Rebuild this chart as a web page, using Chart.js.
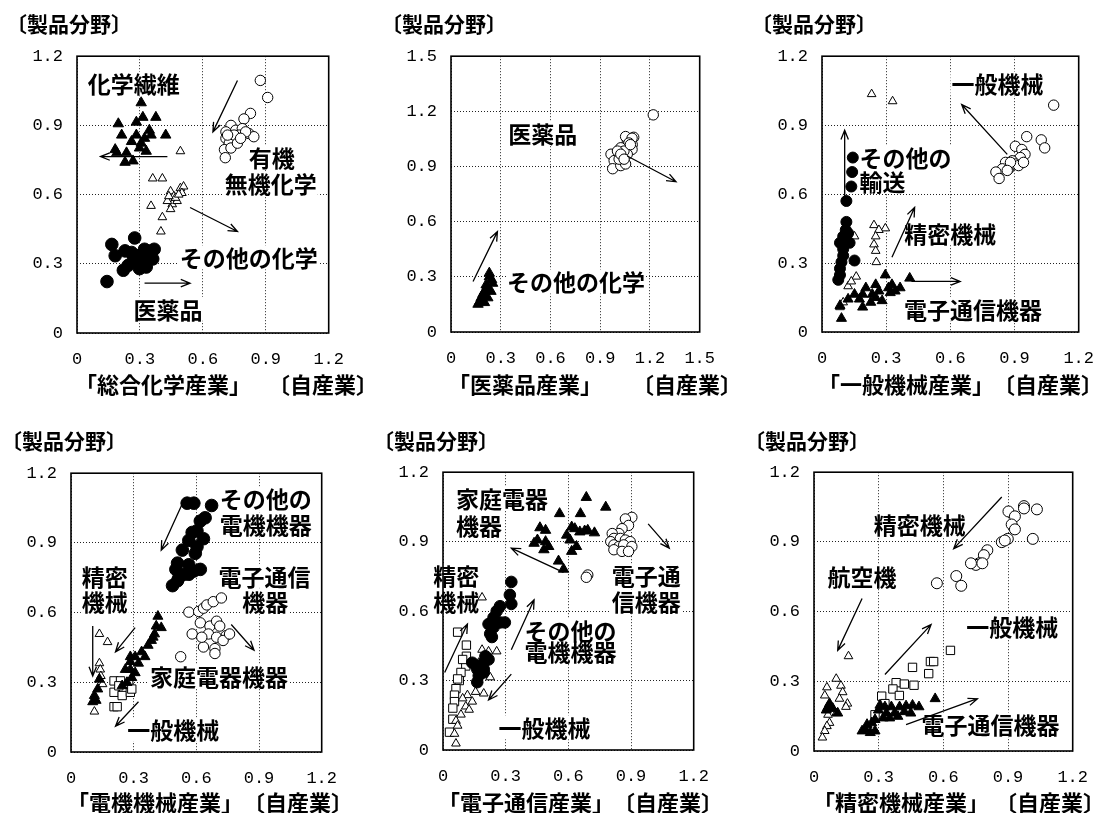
<!DOCTYPE html>
<html><head><meta charset="utf-8">
<script src="https://cdn.jsdelivr.net/npm/chart.js@4.4.0/dist/chart.umd.min.js"></script>
<style>
html,body{margin:0;padding:0;background:#fff;}
body{width:1109px;height:813px;position:relative;overflow:hidden;font-family:"Noto Sans CJK JP",sans-serif;}
.t{position:absolute;font-weight:700;white-space:nowrap;color:#000;}
.ttl{font-size:21px;line-height:21px;}
.xt{font-size:22px;line-height:22px;}
</style></head><body>
<script>
// ---------------- data (x = 自産業, y = 製品分野) ----------------
// Panel 1 「総合化学産業」
const p1_fiber   = [[0.306,0.998],[0.197,0.907],[0.283,0.914],[0.314,0.935],[0.376,0.935],[0.213,0.858],[0.182,0.795],[0.236,0.781],[0.283,0.858],[0.345,0.879],[0.353,0.858],[0.423,0.858],[0.306,0.823],[0.330,0.788],[0.229,0.740],[0.267,0.746],[0.298,0.802],[0.260,0.830],[0.322,0.844],[0.190,0.781]];
const p1_other   = [[0.493,0.788],[0.361,0.670],[0.407,0.670],[0.353,0.551],[0.407,0.502],[0.400,0.440],[0.446,0.614],[0.462,0.593],[0.454,0.558],[0.493,0.628],[0.508,0.635],[0.477,0.572],[0.431,0.572],[0.446,0.537],[0.469,0.586],[0.500,0.607],[0.438,0.593],[0.485,0.600]];
const p1_organic = [[0.874,1.095],[0.909,1.021],[0.827,0.952],[0.796,0.928],[0.734,0.900],[0.710,0.872],[0.757,0.879],[0.788,0.886],[0.819,0.865],[0.843,0.851],[0.710,0.844],[0.741,0.837],[0.773,0.858],[0.726,0.823],[0.703,0.795],[0.734,0.802],[0.707,0.760],[0.749,0.858],[0.804,0.872],[0.765,0.823],[0.718,0.858],[0.780,0.844]];
const p1_pharma  = [[0.166,0.384],[0.182,0.335],[0.275,0.412],[0.143,0.223],[0.221,0.272],[0.229,0.356],[0.260,0.349],[0.291,0.335],[0.322,0.363],[0.353,0.356],[0.306,0.300],[0.275,0.314],[0.244,0.293],[0.330,0.286],[0.361,0.321],[0.298,0.279],[0.267,0.335],[0.368,0.363],[0.337,0.335],[0.314,0.328]];
// Panel 2 「医薬品産業」
const p2_pharma  = [[1.220,1.181],[1.102,1.059],[1.063,1.045],[1.093,1.019],[1.053,1.063],[1.092,1.054],[1.073,1.028],[1.092,0.993],[1.024,1.002],[0.994,0.967],[0.965,0.967],[0.984,0.932],[0.975,0.888],[1.024,0.905],[1.053,0.914],[1.033,0.949],[1.063,0.967],[1.014,0.940],[1.043,0.984],[1.082,1.019],[1.004,0.984],[1.024,0.967],[1.044,0.940]];
const p2_other   = [[0.231,0.300],[0.212,0.256],[0.251,0.265],[0.202,0.221],[0.241,0.221],[0.182,0.186],[0.222,0.186],[0.163,0.151],[0.202,0.160],[0.231,0.320],[0.221,0.240],[0.192,0.205],[0.172,0.165],[0.245,0.285]];
// Panel 3 「一般機械産業」
const p3_general   = [[1.083,0.987],[0.957,0.850],[1.025,0.836],[1.041,0.801],[0.904,0.808],[0.934,0.794],[0.949,0.773],[0.927,0.759],[0.889,0.745],[0.858,0.738],[0.843,0.710],[0.813,0.696],[0.828,0.668],[0.873,0.710],[0.904,0.731],[0.919,0.724],[0.881,0.738],[0.942,0.738],[0.866,0.703]];
const p3_transport = [[0.144,0.759],[0.141,0.696],[0.137,0.633],[0.114,0.570],[0.114,0.479],[0.111,0.444],[0.099,0.416],[0.084,0.388],[0.099,0.332],[0.084,0.276],[0.076,0.227],[0.091,0.304],[0.122,0.430],[0.099,0.360],[0.152,0.311],[0.084,0.248],[0.129,0.388]];
const p3_precision = [[0.232,1.035],[0.330,1.004],[0.243,0.465],[0.296,0.451],[0.266,0.444],[0.251,0.416],[0.243,0.381],[0.251,0.353],[0.254,0.304],[0.152,0.416],[0.160,0.241],[0.122,0.199],[0.137,0.220],[0.084,0.108],[0.099,0.129]];
const p3_electronics = [[0.410,0.234],[0.296,0.248],[0.251,0.206],[0.235,0.164],[0.190,0.164],[0.190,0.108],[0.091,0.059],[0.122,0.143],[0.205,0.192],[0.266,0.178],[0.311,0.192],[0.319,0.171],[0.327,0.206],[0.365,0.192],[0.281,0.136],[0.228,0.129],[0.251,0.150],[0.175,0.143],[0.342,0.178],[0.152,0.164],[0.084,0.115]];
// Panel 4 「電機機械産業」
const p4_otherElec = [[0.556,1.071],[0.588,1.071],[0.673,1.061],[0.642,1.008],[0.619,0.994],[0.603,0.952],[0.580,0.945],[0.634,0.918],[0.564,0.911],[0.603,0.883],[0.533,0.869],[0.595,0.855],[0.564,0.806],[0.510,0.813],[0.502,0.786],[0.619,0.786],[0.588,0.779],[0.541,0.765],[0.517,0.751],[0.564,0.765],[0.486,0.716],[0.510,0.737]];
const p4_electronics = [[0.564,0.602],[0.611,0.605],[0.634,0.619],[0.650,0.633],[0.681,0.647],[0.720,0.663],[0.619,0.556],[0.665,0.542],[0.697,0.563],[0.712,0.542],[0.658,0.508],[0.697,0.494],[0.743,0.501],[0.580,0.508],[0.634,0.452],[0.689,0.445],[0.689,0.424],[0.728,0.480],[0.525,0.410],[0.626,0.494],[0.759,0.508]];
const p4_household = [[0.416,0.584],[0.432,0.535],[0.400,0.508],[0.385,0.480],[0.369,0.459],[0.338,0.431],[0.307,0.410],[0.284,0.410],[0.284,0.389],[0.260,0.355],[0.284,0.355],[0.307,0.341],[0.291,0.320],[0.268,0.299],[0.245,0.285],[0.136,0.313],[0.128,0.271],[0.112,0.243],[0.104,0.216],[0.120,0.222],[0.323,0.382],[0.354,0.410],[0.393,0.494],[0.408,0.542]];
const p4_precision = [[0.136,0.508],[0.175,0.473],[0.136,0.382],[0.140,0.355],[0.143,0.327],[0.112,0.174],[0.151,0.292]];
const p4_general = [[0.206,0.306],[0.237,0.306],[0.206,0.257],[0.252,0.271],[0.245,0.243],[0.284,0.257],[0.206,0.195],[0.221,0.195],[0.229,0.285],[0.276,0.292],[0.291,0.271]];
// Panel 5 「電子通信産業」
const p5_household = [[0.686,1.091],[0.779,1.049],[0.558,1.021],[0.658,1.021],[0.464,0.960],[0.491,0.949],[0.616,0.963],[0.631,0.956],[0.655,0.942],[0.678,0.946],[0.693,0.949],[0.725,0.938],[0.452,0.907],[0.491,0.900],[0.506,0.879],[0.483,0.865],[0.553,0.816],[0.577,0.781],[0.616,0.858],[0.639,0.879],[0.608,0.907],[0.592,0.928],[0.436,0.893]];
const p5_electronics = [[0.904,1.005],[0.873,0.998],[0.888,0.970],[0.857,0.956],[0.842,0.935],[0.810,0.935],[0.818,0.914],[0.803,0.900],[0.849,0.914],[0.873,0.907],[0.896,0.900],[0.818,0.886],[0.842,0.879],[0.865,0.886],[0.904,0.879],[0.818,0.865],[0.857,0.858],[0.888,0.858],[0.693,0.756],[0.686,0.746]];
const p5_otherElec = [[0.327,0.726],[0.320,0.670],[0.327,0.631],[0.273,0.621],[0.257,0.600],[0.242,0.572],[0.218,0.544],[0.242,0.530],[0.226,0.502],[0.234,0.488],[0.273,0.551],[0.296,0.551],[0.203,0.405],[0.195,0.377],[0.171,0.363],[0.164,0.349],[0.195,0.349],[0.195,0.335],[0.164,0.293],[0.218,0.391],[0.171,0.321],[0.140,0.377]];
const p5_precision = [[0.070,0.509],[0.112,0.453],[0.112,0.405],[0.109,0.363],[0.086,0.335],[0.078,0.300],[0.062,0.265],[0.055,0.237],[0.055,0.209],[0.047,0.181],[0.047,0.133],[0.031,0.077],[0.070,0.307],[0.094,0.391]];
const p5_general = [[0.187,0.659],[0.187,0.433],[0.218,0.426],[0.257,0.426],[0.226,0.314],[0.156,0.251],[0.195,0.244],[0.117,0.237],[0.094,0.223],[0.140,0.209],[0.109,0.188],[0.125,0.174],[0.086,0.153],[0.062,0.126],[0.070,0.105],[0.055,0.070],[0.062,0.028],[0.171,0.377]];
// Panel 6 「精密機械産業」
const p6_precision = [[0.974,1.054],[1.034,1.040],[0.974,1.044],[0.902,1.031],[0.932,1.010],[0.917,0.975],[0.932,0.954],[1.015,0.913],[0.899,0.913],[0.871,0.899],[0.804,0.864],[0.788,0.843],[0.766,0.808],[0.751,0.801],[0.781,0.808],[0.728,0.808],[0.660,0.753],[0.683,0.711],[0.570,0.722],[0.885,0.906]];
const p6_general = [[0.633,0.433],[0.540,0.385],[0.555,0.385],[0.532,0.333],[0.457,0.360],[0.381,0.294],[0.419,0.288],[0.464,0.283],[0.366,0.267],[0.396,0.239],[0.314,0.236],[0.283,0.156],[0.329,0.204]];
const p6_aircraft = [[0.160,0.408],[0.103,0.311],[0.060,0.274],[0.125,0.281],[0.133,0.253],[0.050,0.239],[0.118,0.225],[0.155,0.204],[0.148,0.190],[0.060,0.183],[0.103,0.163],[0.065,0.156],[0.072,0.121],[0.060,0.107],[0.050,0.086],[0.039,0.058]];
const p6_electronics = [[0.562,0.225],[0.487,0.190],[0.457,0.197],[0.427,0.194],[0.397,0.190],[0.359,0.190],[0.329,0.190],[0.306,0.197],[0.299,0.176],[0.336,0.163],[0.374,0.163],[0.419,0.169],[0.389,0.149],[0.351,0.142],[0.321,0.142],[0.283,0.135],[0.268,0.121],[0.238,0.093],[0.261,0.079],[0.283,0.086],[0.223,0.086],[0.246,0.114],[0.072,0.204],[0.065,0.190],[0.087,0.183],[0.110,0.163],[0.057,0.176],[0.449,0.163]];

// texts
const yTitle = '〔製品分野〕';
const xTitleOwn = '〔自産業〕';
const industries = ['「総合化学産業」','「医薬品産業」','「一般機械産業」','「電機機械産業」','「電子通信産業」','「精密機械産業」'];
const axisMax = [1.2,1.5,1.2,1.2,1.2,1.2];
const tickStep = 0.3;

// in-plot labels and arrows (data units)
const p1_labels = [['化学繊維',0.271,1.081],['有機',0.928,0.760],['無機化学',0.924,0.649],['その他の化学',0.819,0.328],['医薬品',0.434,0.105]];
const p1_arrows = [[0.765,1.095,0.648,0.872],[0.431,0.765,0.112,0.765],[0.539,0.544,0.765,0.440],[0.322,0.216,0.539,0.216]];
const p2_labels = [['医薬品',0.554,1.083],['その他の化学',0.754,0.275]];
const p2_arrows = [[0.133,0.275,0.280,0.546],[1.063,0.957,1.357,0.817]];
const p3_labels = [['一般機械',0.820,1.081],['その他の',0.175,0.759,'left'],['輸送',0.175,0.654,'left'],['精密機械',0.600,0.430],['電子通信機器',0.706,0.101]];
const p3_arrows = [[0.866,0.773,0.653,0.990],[0.106,0.570,0.106,0.878],[0.327,0.325,0.433,0.542],[0.418,0.220,0.646,0.220]];
const p4_labels = [['その他の',0.712,1.091,'left'],['電機機器',0.712,0.980,'left'],['電子通信',0.926,0.758],['機器',0.930,0.647],['精密',0.162,0.758],['機械',0.162,0.647],['家庭電器機器',0.708,0.327],['一般機械',0.490,0.097]];
const p4_arrows = [[0.541,1.085,0.432,0.869],[0.104,0.542,0.104,0.327],[0.307,0.535,0.213,0.431],[0.767,0.549,0.876,0.438],[0.323,0.216,0.213,0.111]];
const p5_labels = [['家庭電器',0.062,1.088,'left'],['機器',0.062,0.970,'left'],['電子通',1.138,0.753,'right'],['信機器',1.138,0.642,'right'],['精密',-0.047,0.753,'left'],['機械',-0.047,0.642,'left'],['その他の',0.390,0.516,'left'],['電機機器',0.390,0.426,'left'],['一般機械',0.486,0.098]];
const p5_arrows = [[0.577,0.767,0.327,0.872],[0.982,0.977,1.083,0.872],[0.008,0.335,0.117,0.544],[0.327,0.433,0.436,0.649],[0.327,0.328,0.218,0.216]];
const p6_labels = [['精密機械',0.490,0.975],['航空機',0.223,0.753],['一般機械',0.920,0.538],['電子通信機器',0.819,0.114]];
const p6_arrows = [[0.871,1.093,0.648,0.871],[0.223,0.656,0.110,0.433],[0.329,0.329,0.543,0.544],[0.427,0.114,0.758,0.225]];

// ---------------- styles & layout ----------------
const STY = {
  triF:{ps:'triangle',bg:'#000',r:5.8},
  triO:{ps:'triangle',bg:'#fff',r:5.0},
  cirF:{ps:'circle',bg:'#000',r:6},
  cirO:{ps:'circle',bg:'#fff',r:5.2},
  sqO:{ps:'rect',bg:'#fff',r:5.9}
};
const panels = [
  {box:[77,47,335,333], ttl:[6,13], xt:[75,268,383], sets:[[p1_pharma,'cirF',6.3],[p1_fiber,'triF',6],[p1_other,'triO'],[p1_organic,'cirO']], labels:p1_labels, arrows:p1_arrows},
  {box:[451,47,706,332], ttl:[381,13], xt:[448,632,383], sets:[[p2_other,'triF',6],[p2_pharma,'cirO']], labels:p2_labels, arrows:p2_arrows},
  {box:[822,47,1085,332], ttl:[751,13], xt:[818,993,383], sets:[[p3_transport,'cirF',5.5],[p3_electronics,'triF'],[p3_precision,'triO'],[p3_general,'cirO']], labels:p3_labels, arrows:p3_arrows},
  {box:[71,464,328,752], ttl:[1,430], xt:[67,243,801], sets:[[p4_otherElec,'cirF',6.3],[p4_household,'triF'],[p4_precision,'triO'],[p4_general,'sqO'],[p4_electronics,'cirO']], labels:p4_labels, arrows:p4_arrows},
  {box:[443,463,700,750], ttl:[373,430], xt:[438,613,801], sets:[[p5_otherElec,'cirF',5.8],[p5_household,'triF',6],[p5_general,'triO'],[p5_precision,'sqO'],[p5_electronics,'cirO']], labels:p5_labels, arrows:p5_arrows},
  {box:[814,463,1079,751], ttl:[744,430], xt:[813,995,801], sets:[[p6_electronics,'triF'],[p6_aircraft,'triO'],[p6_general,'sqO'],[p6_precision,'cirO',5.5]], labels:p6_labels, arrows:p6_arrows}
];

function addText(txt, cls, left, top){
  const d=document.createElement('div');
  d.className='t '+cls; d.textContent=txt;
  d.style.left=left+'px'; d.style.top=top+'px';
  document.body.appendChild(d);
}
function drawArrow(ctx,x1,y1,x2,y2){
  const a=Math.atan2(y2-y1,x2-x1), h=10, s=0.38;
  ctx.beginPath();
  ctx.moveTo(x1,y1); ctx.lineTo(x2,y2);
  ctx.moveTo(x2-h*Math.cos(a-s), y2-h*Math.sin(a-s));
  ctx.lineTo(x2,y2);
  ctx.lineTo(x2-h*Math.cos(a+s), y2-h*Math.sin(a+s));
  ctx.stroke();
}
const TICKFONT = {family:'"Liberation Mono", "DejaVu Sans Mono", monospace', size:17};
const PADL=70, PADT=15, PADR=25, XH=44;

panels.forEach((p,i)=>{
  const [L,T,R,B]=p.box;
  const W=(R-L)+PADL+PADR, H=(B-T)+PADT+XH;
  const cv=document.createElement('canvas');
  cv.width=W; cv.height=H;
  cv.style.cssText=`position:absolute;left:${L-PADL}px;top:${T-PADT}px;width:${W}px;height:${H}px;`;
  document.body.appendChild(cv);

  addText(yTitle,'ttl',p.ttl[0],p.ttl[1]);
  addText(industries[i],'xt',p.xt[0],p.xt[2]-11);
  addText(xTitleOwn,'xt',p.xt[1],p.xt[2]-11);

  const annot = {
    id:'annot'+i,
    beforeDatasetsDraw(chart){
      const {ctx, chartArea:a, scales:{x,y}} = chart;
      ctx.save();
      ctx.font='700 23px "Noto Sans CJK JP", sans-serif';
      ctx.textBaseline='middle';
      p.labels.forEach(([t,vx,vy,al])=>{
        const px=x.getPixelForValue(vx), py=y.getPixelForValue(vy);
        const w=ctx.measureText(t).width;
        const x0 = al==='left'?px:(al==='right'?px-w:px-w/2);
        ctx.fillStyle='#fff'; ctx.fillRect(x0-1,py-12,w+2,24);
      });
      ctx.lineWidth=1.6; ctx.strokeStyle='#000';
      ctx.strokeRect(a.left,a.top,a.right-a.left,a.bottom-a.top);
      ctx.fillStyle='#000';
      p.labels.forEach(([t,vx,vy,al])=>{
        ctx.textAlign = al||'center';
        ctx.fillText(t, x.getPixelForValue(vx), y.getPixelForValue(vy)+1);
      });
      ctx.restore();
    },
    afterDatasetsDraw(chart){
      const {ctx, scales:{x,y}} = chart;
      ctx.save();
      ctx.lineWidth=1.3; ctx.strokeStyle='#000';
      p.arrows.forEach(([x1,y1,x2,y2])=>drawArrow(ctx,x.getPixelForValue(x1),y.getPixelForValue(y1),x.getPixelForValue(x2),y.getPixelForValue(y2)));
      ctx.restore();
    }
  };

  const axis = (isX)=>({
    type:'linear', min:0, max:axisMax[i],
    ticks:{stepSize:tickStep, font:TICKFONT, color:'#000', padding:isX?16:14, maxRotation:0, autoSkip:false},
    grid:{color:'#222', lineWidth:1, drawTicks:false},
    border:{display:false, dash:[1,2]},
    afterFit(s){ if(isX) s.height=XH; else s.width=PADL; }
  });

  new Chart(cv,{
    type:'scatter',
    data:{datasets:p.sets.map(([arr,st,r])=>({
      data:arr.map(([x,y])=>({x,y})),
      pointStyle:STY[st].ps,
      pointRadius:r||STY[st].r,
      backgroundColor:STY[st].bg,
      borderColor:'#000',
      borderWidth:1,
      clip:false
    }))},
    options:{
      responsive:false, animation:false, events:[], devicePixelRatio:1,
      layout:{padding:{top:PADT,right:PADR,left:0,bottom:0}},
      plugins:{legend:{display:false}, tooltip:{enabled:false}},
      scales:{x:axis(true), y:axis(false)}
    },
    plugins:[annot]
  });
});
</script>
</body></html>
